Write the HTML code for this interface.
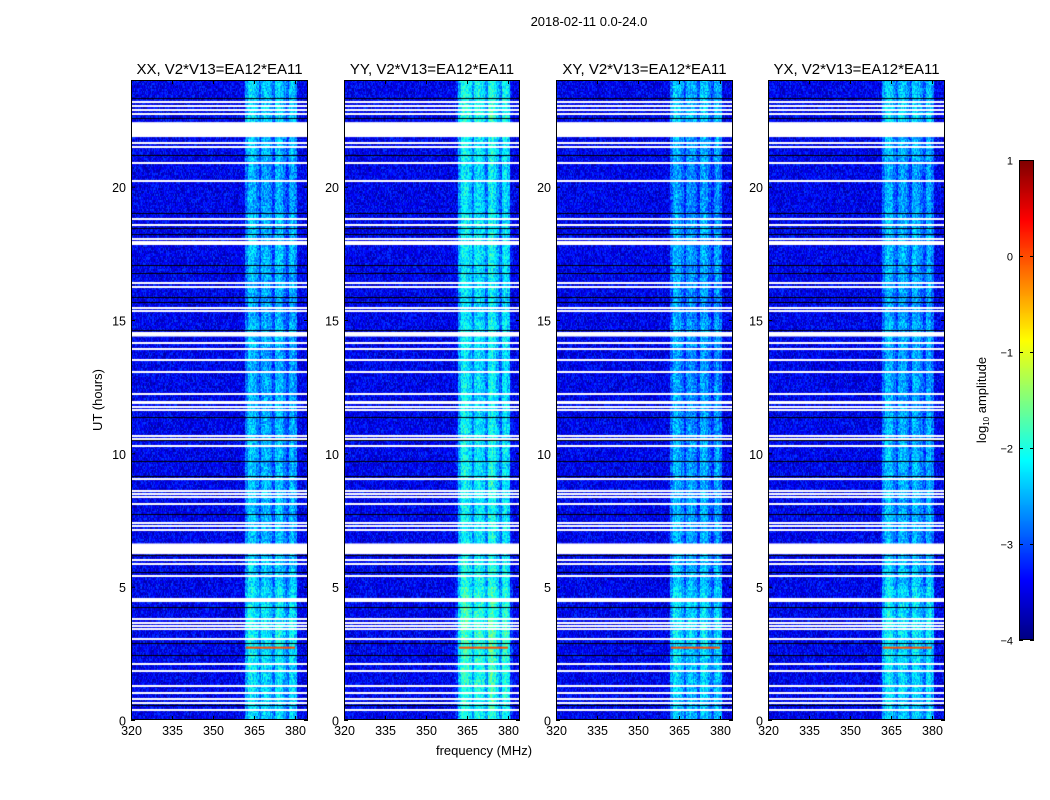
<!DOCTYPE html>
<html><head><meta charset="utf-8">
<style>
html,body{margin:0;padding:0;background:#fff;}
#wrap{position:relative;width:1050px;height:800px;overflow:hidden;font-family:"Liberation Sans",sans-serif;}
canvas{position:absolute;}
svg{position:absolute;left:0;top:0;}
</style></head>
<body>
<div id="wrap">
<canvas id="c0" width="177" height="640" style="left:131px;top:80px"></canvas>
<canvas id="c1" width="176" height="640" style="left:344px;top:80px"></canvas>
<canvas id="c2" width="177" height="640" style="left:556px;top:80px"></canvas>
<canvas id="c3" width="177" height="640" style="left:768px;top:80px"></canvas>
<canvas id="cb" width="15" height="480" style="left:1019px;top:160px"></canvas>
<svg id="ov" width="1050" height="800"></svg>
</div>
<script>
// ---- data ----
const panelTitles = ["XX, V2*V13=EA12*EA11","YY, V2*V13=EA12*EA11","XY, V2*V13=EA12*EA11","YX, V2*V13=EA12*EA11"];
const xTicks = [320,335,350,365,380];
const yTicks = [0,5,10,15,20];
const cbTicks = [1,0,-1,-2,-3,-4];
const backgroundLevel = -3.45;
const bandChannels = [361,362,363,364,365,366,367,368,369,370,371,372,373,374,375,376,377,378,379,380,381];
const bandXX = [-3.45,-2.75,-2.35,-2.35,-2.45,-2.65,-3.0,-2.55,-2.45,-2.55,-2.65,-3.0,-2.45,-2.35,-2.45,-2.75,-3.0,-2.55,-2.45,-2.65,-3.45];
const bandYY = [-3.35,-2.55,-2.15,-2.05,-2.15,-2.35,-2.75,-2.25,-2.15,-2.25,-2.35,-2.75,-2.05,-1.95,-2.15,-2.45,-2.85,-2.25,-2.15,-2.35,-3.35];
const bandXY = [-3.45,-2.85,-2.45,-2.45,-2.55,-2.75,-3.1,-2.65,-2.55,-2.65,-2.75,-3.1,-2.55,-2.45,-2.55,-2.85,-3.1,-2.65,-2.55,-2.75,-3.45];
const bandYX = [-3.45,-2.75,-2.45,-2.35,-2.45,-2.75,-3.0,-2.55,-2.45,-2.55,-2.75,-3.0,-2.45,-2.45,-2.55,-2.75,-3.0,-2.55,-2.45,-2.75,-3.45];
const hourBoost = [0.15,0.2,0.25,0.3,0.25,0.1,0,0,0,0,0,-0.05,-0.05,-0.1,0,-0.1,-0.05,0,0,-0.1,-0.1,0,0.15,0.1];
const flaggedGaps = [[21.86,22.42],[14.38,14.55],[6.22,6.62]];
const whiteLines = [23.21,23.08,22.93,22.78,21.68,21.53,20.91,20.24,18.81,18.59,18.06,17.97,17.87,16.41,16.29,15.48,15.37,14.18,13.96,13.52,13.09,12.25,11.96,11.94,11.78,11.65,10.69,10.56,10.31,9.06,8.62,8.52,8.40,8.12,7.44,7.31,7.15,6.02,5.90,5.44,4.56,4.50,3.81,3.69,3.56,3.44,3.06,2.12,1.87,1.31,1.06,0.81,0.69,0.40];
const blackLines = [23.31,22.56,21.19,20.87,19.0,18.44,18.22,17.06,16.75,15.87,15.69,14.62,11.35,10.5,9.72,9.15,7.72,6.19,5.56,4.25,2.88,2.44,0.56];
const rfiHour = [2.75];
const rfiLevel = [0.0];

// ---- scales ----
const fMin=320, pxPerMHz=2.733, hPx=640/24;
function xOf(f){return (f-fMin)*pxPerMHz;}
function yOf(h){return 640-h*hPx;}
function jet(v){
  let x=(v+4)/5; x=Math.max(0,Math.min(1,x));
  const c=t=>Math.max(0,Math.min(1,t));
  return [c(1.5-Math.abs(4*x-3))*255,c(1.5-Math.abs(4*x-2))*255,c(1.5-Math.abs(4*x-1))*255];
}
function tex(i,j,s){ // deterministic speckle texture
  let h=Math.imul(i+1,0x9E3779B1)^Math.imul(j+7,0x85EBCA77)^Math.imul(s+3,0xC2B2AE3D);
  h^=h>>>15; h=Math.imul(h,0x2C1B3C6D); h^=h>>>12; h=Math.imul(h,0x297A2D39); h^=h>>>15;
  return (((h>>>0)&1023)/1023-0.5);
}
const bands=[bandXX,bandYY,bandXY,bandYX];
bands.forEach((band,p)=>{
  const cv=document.getElementById('c'+p), ctx=cv.getContext('2d');
  const W=cv.width,H=cv.height, im=ctx.createImageData(W,H);
  for(let y=0;y<H;y++){
    const h=(H-y)/hPx, hr=Math.min(23,Math.floor(h)), row=Math.floor(y/1.5);
    for(let x=0;x<W;x++){
      const f=fMin+x/pxPerMHz, ch=Math.round(f);
      const bi=bandChannels.indexOf(ch);
      let v=backgroundLevel;
      if(bi>=0 && band[bi]>backgroundLevel) v=band[bi]+hourBoost[hr];
      v+=tex(x,row,p)*0.8;
      const c=jet(v), k=(y*W+x)*4;
      im.data[k]=c[0];im.data[k+1]=c[1];im.data[k+2]=c[2];im.data[k+3]=255;
    }
  }
  ctx.putImageData(im,0,0);
  const f0=bandChannels[1], f1=bandChannels[bandChannels.length-2];
  rfiHour.forEach((h,i)=>{const c=jet(rfiLevel[i]);ctx.fillStyle='rgb('+c.map(Math.round).join(',')+')';ctx.fillRect(xOf(f0),yOf(h),xOf(f1)-xOf(f0),2);});
  ctx.fillStyle='#000'; blackLines.forEach(h=>ctx.fillRect(0,Math.round(yOf(h)),W,1));
  ctx.fillStyle='#fff'; whiteLines.forEach(h=>ctx.fillRect(0,Math.round(yOf(h)),W,2));
  flaggedGaps.forEach(g=>ctx.fillRect(0,yOf(g[1]),W,yOf(g[0])-yOf(g[1])));
});
// colorbar
(function(){const cv=document.getElementById('cb'),ctx=cv.getContext('2d');
 for(let y=0;y<480;y++){const c=jet(1-5*y/480);ctx.fillStyle='rgb('+c.map(Math.round).join(',')+')';ctx.fillRect(0,y,15,1);}})();

// ---- overlay ----
const svg=document.getElementById('ov'), NS='http://www.w3.org/2000/svg';
function mk(tag,attrs,txt){const e=document.createElementNS(NS,tag);for(const k in attrs)e.setAttribute(k,attrs[k]);if(txt!==undefined)e.textContent=txt;svg.appendChild(e);return e;}
const lefts=[131,344,556,768], widths=[177,176,177,177], topY=80, botY=720;
lefts.forEach((L,p)=>{
  const fr=mk('rect',{x:L+0.5,y:topY+0.5,width:widths[p]-1,height:639,fill:'none',stroke:'#000','stroke-width':1});
  
  
  const t=mk('text',{x:L+widths[p]/2,y:74,'text-anchor':'middle','font-size':15},panelTitles[p]);
  
  
  xTicks.forEach(f=>{
    const x=L+xOf(f)+0.5;
    mk('line',{x1:x,y1:botY,x2:x,y2:botY-4,stroke:'#000'});
    mk('line',{x1:x,y1:topY,x2:x,y2:topY+4,stroke:'#000'});
    const tl=mk('text',{x:x,y:botY+15,'text-anchor':'middle','font-size':12.5},String(f));
    
    
  });
  yTicks.forEach(h=>{
    const y=topY+yOf(h)+0.5;
    mk('line',{x1:L,y1:y,x2:L+4,y2:y,stroke:'#000'});
    mk('line',{x1:L+widths[p],y1:y,x2:L+widths[p]-4,y2:y,stroke:'#000'});
    const tl=mk('text',{x:L-5,y:y+5,'text-anchor':'end','font-size':12.5},String(h));
    
    
  });
});
const st=mk('text',{x:589,y:26,'text-anchor':'middle','font-size':13},'2018-02-11 0.0-24.0');


const xl=mk('text',{x:484,y:755,'text-anchor':'middle','font-size':13},'frequency (MHz)');


const yl=mk('text',{x:0,y:0,'text-anchor':'middle','font-size':13,transform:'translate(102,400) rotate(-90)'},'UT (hours)');


const cbf=mk('rect',{x:1019.5,y:160.5,width:14,height:479,fill:'none',stroke:'#000'});


cbTicks.forEach(v=>{
  const y=160+(1-v)/5*480+0.5;
  mk('line',{x1:1019,y1:y,x2:1023,y2:y,stroke:'#000'});
  mk('line',{x1:1034,y1:y,x2:1030,y2:y,stroke:'#000'});
  const tl=mk('text',{x:1013,y:y+4,'text-anchor':'end','font-size':11},(v<0?'\u2212'+(-v):String(v)));
  
  
});
const cl=mk('text',{x:0,y:0,'text-anchor':'middle','font-size':13,transform:'translate(986,400) rotate(-90)'});


const t1=document.createElementNS(NS,'tspan');t1.textContent='log';cl.appendChild(t1);
const t2=document.createElementNS(NS,'tspan');t2.setAttribute('font-size',8);t2.setAttribute('dy',3);t2.textContent='10';cl.appendChild(t2);
const t3=document.createElementNS(NS,'tspan');t3.setAttribute('dy',-3);t3.textContent=' amplitude';cl.appendChild(t3);
</script>
</body></html>
